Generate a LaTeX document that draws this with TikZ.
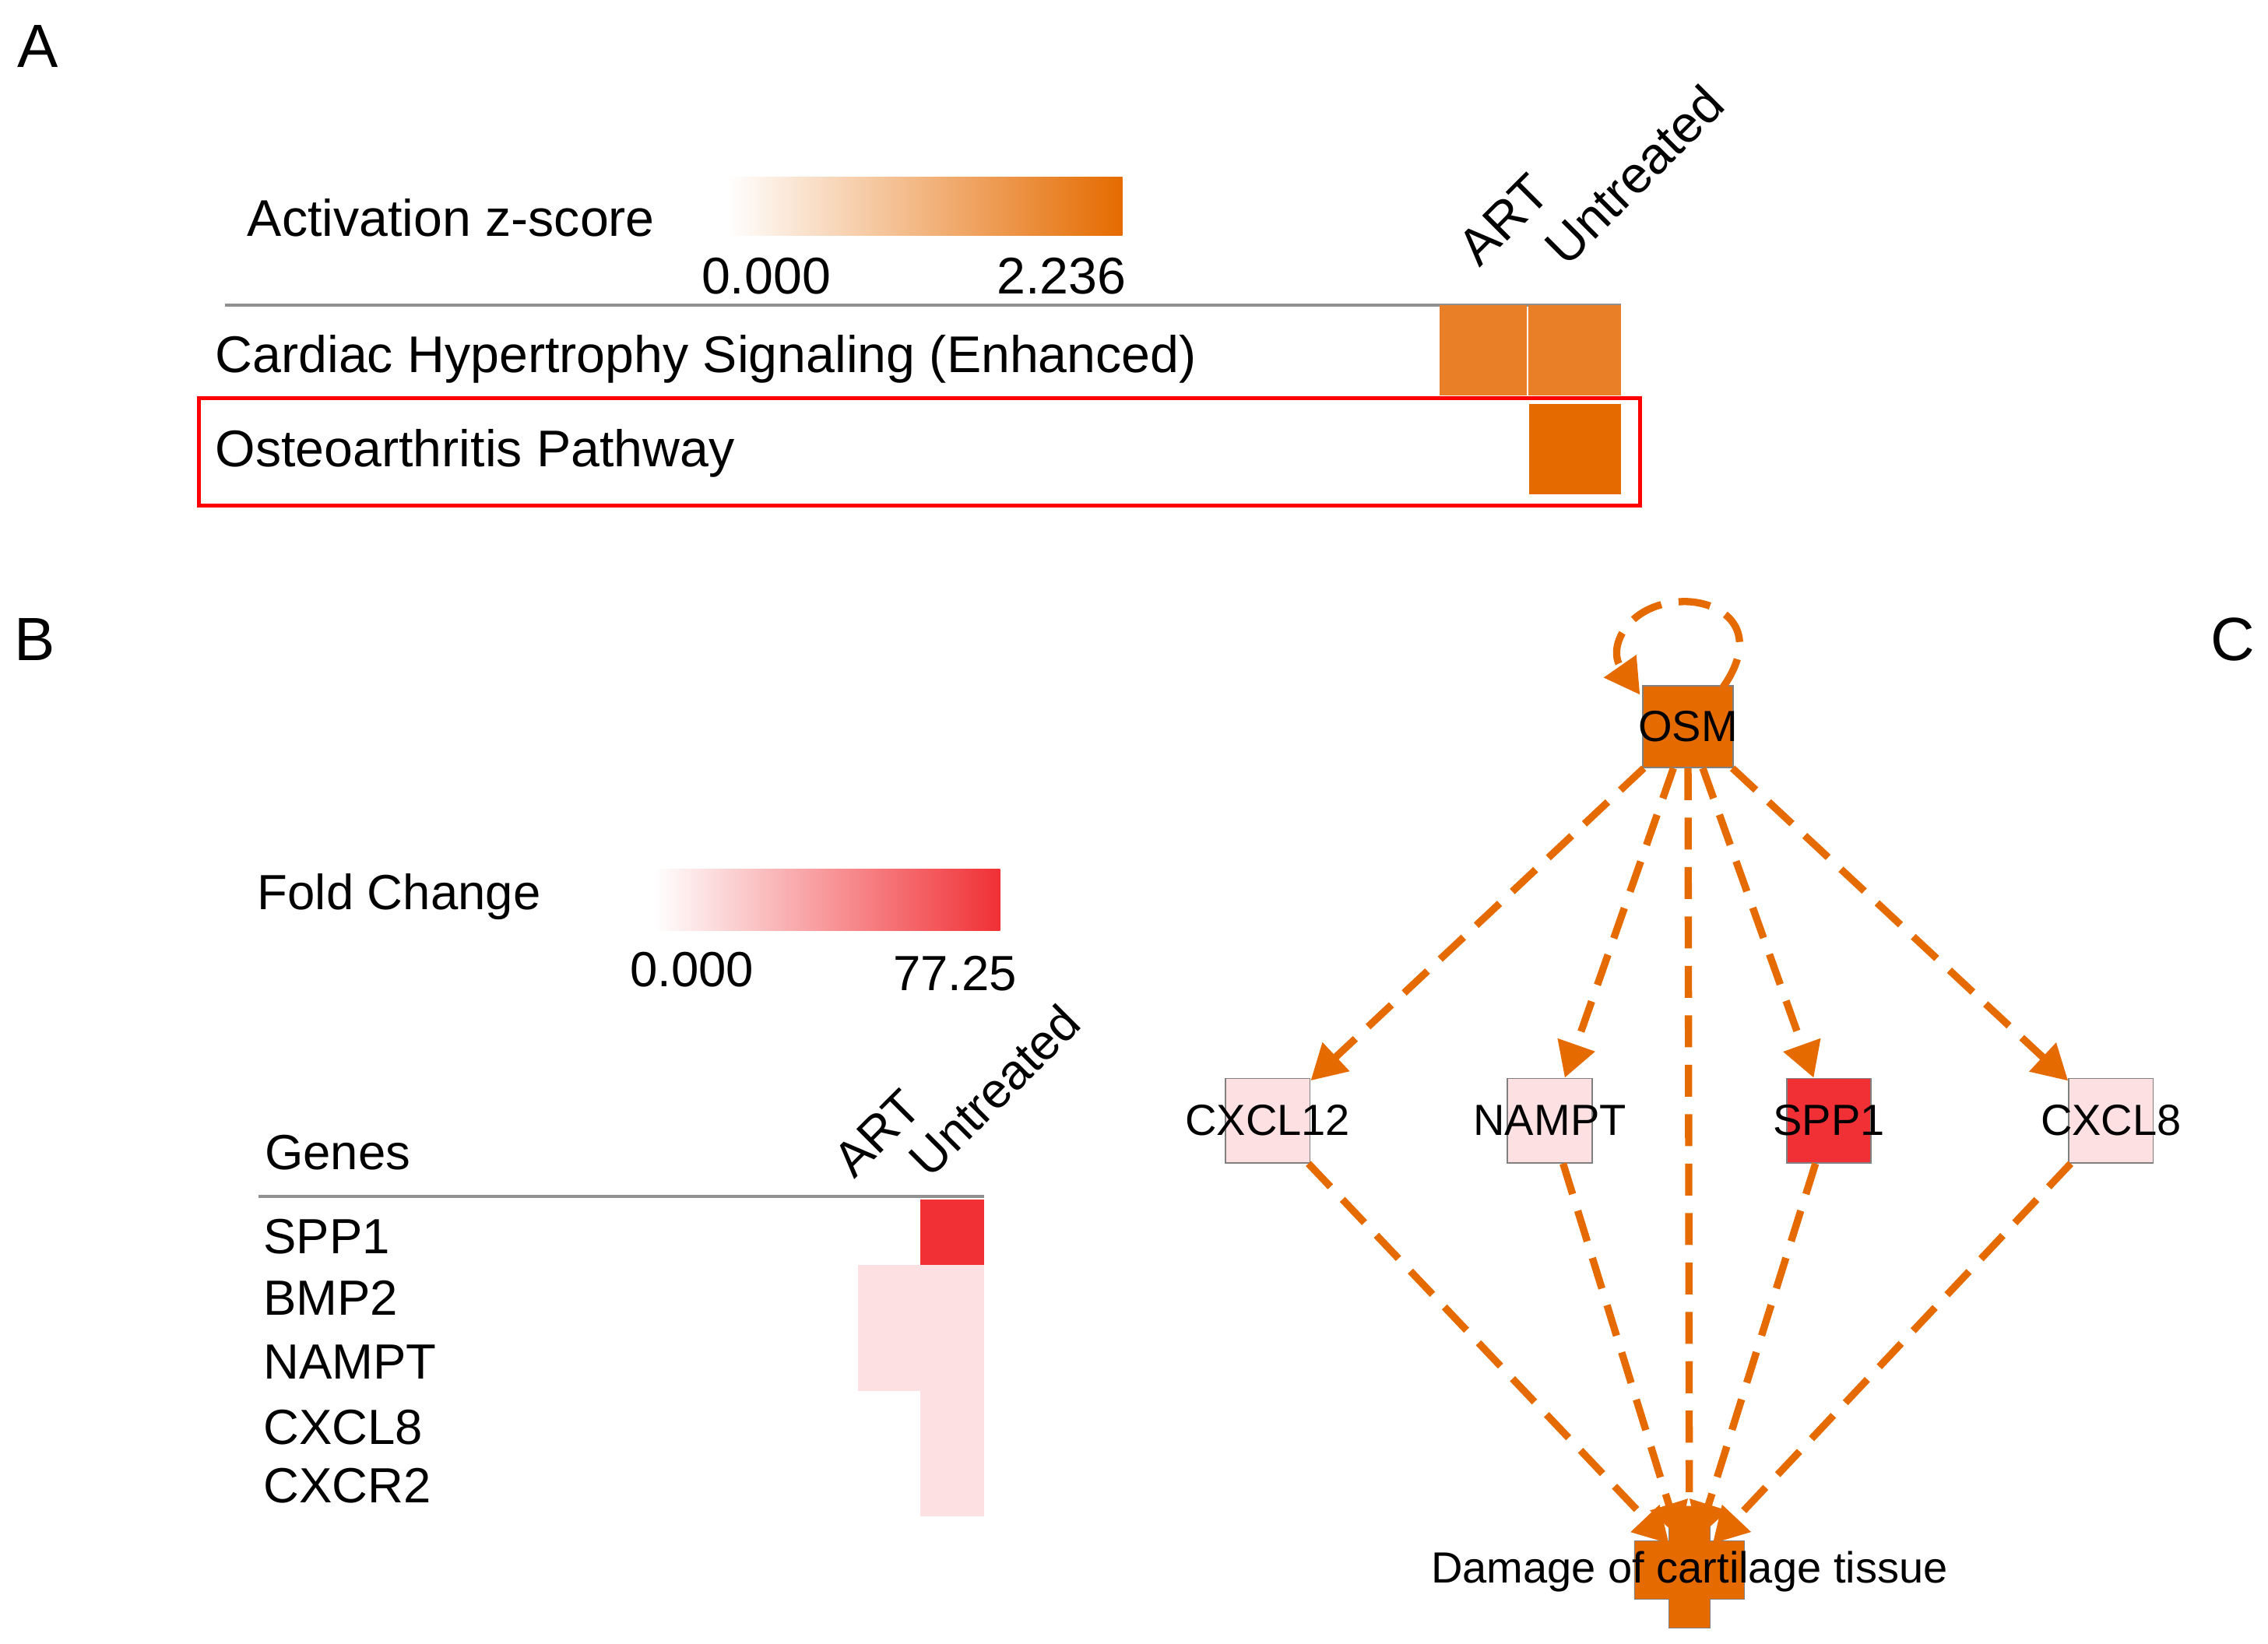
\documentclass[tikz,border=0pt]{standalone}
\usepackage{fontspec}
\setmainfont{Liberation Sans}
\usetikzlibrary{arrows.meta}
\definecolor{or1}{HTML}{E98028}
\definecolor{or2}{HTML}{E56B00}
\definecolor{pk}{HTML}{FCE0E2}
\definecolor{rd}{HTML}{F03035}
\definecolor{ln}{HTML}{909090}
\begin{document}
\begin{tikzpicture}[x=1pt,y=-1pt,
  big/.style={font=\fontsize{35.5}{38}\selectfont,inner sep=0},
  lab/.style={font=\fontsize{34}{36}\selectfont,inner sep=0},
  net/.style={font=\fontsize{30}{32}\selectfont,inner sep=0},
  gbox/.style={draw=gray,line width=1pt,minimum width=58pt,minimum height=58pt,inner sep=0},
  edge/.style={draw=or2,line width=5pt,dash pattern=on 22pt off 12pt,-{Triangle[length=24pt,width=26pt]}}]
\useasboundingbox (0,0) rectangle (1560,1131);
\node[font=\fontsize{42}{46}\selectfont] (lA) at (26,32) {A};
\node[font=\fontsize{42}{46}\selectfont] (lB) at (24,440) {B};
\node[font=\fontsize{42}{46}\selectfont] (lC) at (1536,440) {C};
% A
\shade[left color=white,right color=or2] (500,122) rectangle (772,162);
\node[big,anchor=west] (az) at (170,150) {Activation z-score};
\node[big] (a0) at (527,190) {0.000};
\node[big] (a1) at (730,190) {2.236};
\draw[ln,line width=2pt] (155,210) -- (1115,210);
\fill[or1] (990,210) rectangle (1050,272);
\fill[or1] (1051,210) rectangle (1115,272);
\node[big,anchor=west] (cardiac) at (148,247) {Cardiac Hypertrophy Signaling (Enhanced)};
\fill[or2] (1052,278) rectangle (1115,340);
\draw[red,line width=2.5pt] (137,274) rectangle (1128,348);
\node[big,anchor=west] (osteo) at (148,312) {Osteoarthritis Pathway};
\node[big,anchor=south west,rotate=45] (hART) at (1018,185) {ART};
\node[big,anchor=south west,rotate=45] (hUn) at (1078,185) {Untreated};
% B
\shade[left color=white,right color=rd] (450,598) rectangle (688,640);
\node[lab,anchor=west] (fc) at (177,617) {Fold Change};
\node[lab] (f0) at (476,667) {0.000};
\node[lab] (f1) at (657,670) {77.25};
\node[lab,anchor=west] (genes) at (182,793) {Genes};
\draw[ln,line width=2pt] (178,823) -- (677,823);
\fill[rd] (633,825) rectangle (677,870);
\fill[pk] (590,870) rectangle (633,957);
\fill[pk] (633,870) rectangle (677,1043);
\node[lab,anchor=west] (g1) at (181,851) {SPP1};
\node[lab,anchor=west] (g2) at (181,893) {BMP2};
\node[lab,anchor=west] (g3) at (181,937) {NAMPT};
\node[lab,anchor=west] (g4) at (181,982) {CXCL8};
\node[lab,anchor=west] (g5) at (181,1022) {CXCR2};
\node[lab,anchor=south west,rotate=45] (bART) at (588,812) {ART};
\node[lab,anchor=south west,rotate=45] (bUn) at (640,812) {Untreated};
% C
\node[gbox,fill=or2,minimum width=62pt,minimum height=56pt] (osm) at (1161,500) {};
\node[gbox,fill=pk] (cxcl12) at (872,771) {};
\node[gbox,fill=pk] (nampt) at (1066,771) {};
\node[gbox,fill=rd] (spp1) at (1258,771) {};
\node[gbox,fill=pk] (cxcl8) at (1452,771) {};
\fill[or2,draw=gray] (1148,1040) -- (1176,1040) -- (1176,1060) -- (1200,1060) -- (1200,1100) -- (1176,1100) -- (1176,1120) -- (1148,1120) -- (1148,1100) -- (1124,1100) -- (1124,1060) -- (1148,1060) -- cycle;
\coordinate (dmg) at (1162,1060);
\draw[edge] (1185,473) .. controls (1215,430) and (1180,412) .. (1155,414) .. controls (1120,416) and (1105,445) .. (1128,478);
\draw[edge] (osm) -- (cxcl12);
\draw[edge] (osm) -- (nampt);
\draw[edge] (osm) -- (spp1);
\draw[edge] (osm) -- (cxcl8);
\draw[edge] (osm) -- (dmg);
\draw[edge] (cxcl12) -- (1148,1062);
\draw[edge] (nampt) -- (1155,1058);
\draw[edge] (spp1) -- (1168,1058);
\draw[edge] (cxcl8) -- (1178,1062);
\node[net] (tosm) at (osm) {OSM};
\node[net] (t1) at (cxcl12) {CXCL12};
\node[net] (t2) at (nampt) {NAMPT};
\node[net] (t3) at (spp1) {SPP1};
\node[net] (t4) at (cxcl8) {CXCL8};
\node[net] (td) at (1162,1081) {Damage of cartilage tissue};
\end{tikzpicture}
\end{document}
